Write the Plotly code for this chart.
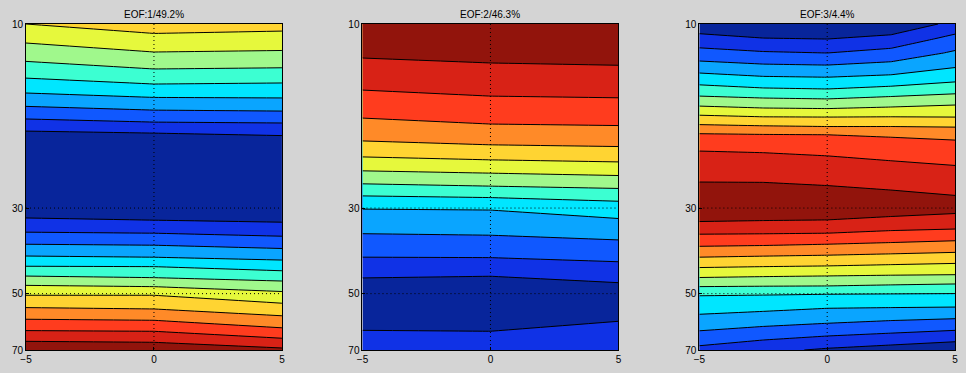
import plotly.graph_objects as go
import math

# ---------------- data ----------------
titles = ["EOF:1/49.2%", "EOF:2/46.3%", "EOF:3/4.4%"]
x_cols = [-5, 0, 5]
x_cols3 = [-5, -2.5, 0, 2.5, 5]
x_range = [-5, 5]
p_range = [10, 70]
x_ticks = [-5, 0, 5]
p_ticks = [10, 30, 50, 70]
grid_x = [0]
grid_p = [30, 50]

# contour-band index field, rows at pressure levels
p1 = [10.00, 10.58, 11.82, 13.08, 14.31, 15.50, 16.72, 17.96, 19.18, 24.90,
      32.25, 34.86, 37.45, 40.23, 42.56, 45.45, 47.96, 50.49, 54.79, 58.62,
      62.60, 66.85, 70.00]
z1 = [[7.50, 8.00, 7.86], [7.00, 7.50, 7.38], [6.03, 6.50, 6.42],
      [5.07, 5.50, 5.43], [4.13, 4.50, 4.43], [3.19, 3.50, 3.54],
      [2.21, 2.50, 2.58], [1.25, 1.50, 1.58], [0.33, 0.50, 0.59],
      [-1.0, -1.0, -1.0], [0.58, 0.50, 0.36], [1.58, 1.50, 1.26],
      [2.58, 2.50, 2.22], [3.60, 3.50, 3.24], [4.54, 4.50, 4.10],
      [5.66, 5.50, 5.17], [6.64, 6.50, 6.05], [7.50, 7.50, 6.85],
      [8.61, 8.50, 7.97], [9.59, 9.50, 8.85], [10.56, 10.50, 9.80],
      [11.59, 11.50, 10.91], [12.32, 12.20, 11.71]]

p2 = [10.00, 12.62, 15.38, 18.17, 20.57, 22.50, 24.36, 26.32, 28.18, 30.36,
      35.28, 40.33, 45.07, 53.50, 62.60, 70.00]
z2 = [[12.53, 12.70, 12.77], [11.35, 11.50, 11.57], [10.31, 10.50, 10.56],
      [9.28, 9.50, 9.57], [8.32, 8.50, 8.61], [7.30, 7.50, 7.65],
      [6.33, 6.50, 6.68], [5.32, 5.50, 5.69], [4.36, 4.50, 4.75],
      [3.43, 3.50, 3.90], [2.44, 2.50, 2.71], [1.48, 1.50, 1.71],
      [0.55, 0.50, 0.76], [-0.30, -0.30, -0.40], [0.53, 0.50, 1.05],
      [1.12, 1.07, 1.40]]

p3 = [10.00, 10.94, 11.89, 12.78, 13.74, 14.74, 15.64, 16.57, 17.43, 18.44,
      19.37, 21.97, 26.23, 29.09, 32.20, 34.86, 37.23, 39.75, 42.38, 44.99,
      47.76, 50.19, 54.57, 59.68, 64.39, 70.00]
z3 = [[-0.17, -0.50, -0.50, -0.28, 0.78],
      [0.87, 0.57, 0.50, 0.81, 1.85],
      [1.87, 1.61, 1.50, 1.85, 2.64],
      [2.82, 2.58, 2.50, 2.75, 3.34],
      [3.86, 3.57, 3.50, 3.69, 4.13],
      [4.85, 4.59, 4.50, 4.75, 5.06],
      [5.76, 5.59, 5.50, 5.74, 5.97],
      [6.76, 6.56, 6.50, 6.65, 6.81],
      [7.71, 7.53, 7.50, 7.53, 7.50],
      [8.70, 8.58, 8.50, 8.50, 8.44],
      [9.62, 9.54, 9.50, 9.39, 9.27],
      [10.76, 10.67, 10.50, 10.33, 10.18],
      [11.60, 11.60, 11.50, 11.36, 11.17],
      [12.10, 12.15, 12.20, 11.90, 11.75],
      [11.63, 11.55, 11.50, 11.40, 11.35],
      [10.58, 10.55, 10.50, 10.28, 10.11],
      [9.69, 9.62, 9.50, 9.36, 9.22],
      [8.69, 8.59, 8.50, 8.38, 8.25],
      [7.66, 7.57, 7.50, 7.38, 7.27],
      [6.67, 6.57, 6.50, 6.43, 6.39],
      [5.58, 5.53, 5.50, 5.39, 5.28],
      [4.58, 4.55, 4.50, 4.46, 4.43],
      [3.84, 3.70, 3.50, 3.45, 3.41],
      [2.99, 2.73, 2.50, 2.29, 2.10],
      [2.16, 1.80, 1.50, 1.27, 1.02],
      [1.21, 0.75, 0.36, 0.07, -0.25]]

levels = dict(start=0.5, end=11.5, size=1)
band_colors = ["#08259b", "#1032e6", "#1058ff", "#0aa5ff", "#00e6ff",
               "#3cffd2", "#a0f88c", "#e6f83c", "#ffd432", "#ff8a28",
               "#ff3c1e", "#d82216", "#92140c"]

# ---------------- figure ----------------
W, H = 966, 373
bg = "#d4d4d4"
L, R, T, B = 25.7, 11.0, 24.3, 23.0        # outer margins (px)
inner_w = W - L - R
panel_px = [(25.7, 281.7), (362.3, 618.3), (699.3, 955.0)]
x_domains = [[(a - L) / inner_w, (b - L) / inner_w] for a, b in panel_px]
y_domain = [0, 1]

nb = len(band_colors) - 1
colorscale = [[i / nb, c] for i, c in enumerate(band_colors)]

fig = go.Figure()
panels = [(x_cols, p1, z1), (x_cols, p2, z2), (x_cols3, p3, z3)]
for i, (xx, pp, zz) in enumerate(panels):
    xa = "x" if i == 0 else f"x{i+1}"
    ya = "y" if i == 0 else f"y{i+1}"
    fig.add_trace(go.Contour(
        x=xx, y=pp, z=zz, xaxis=xa, yaxis=ya,
        autocontour=False,
        contours=dict(start=levels["start"], end=levels["end"], size=levels["size"],
                      coloring="fill", showlines=True),
        line=dict(color="black", width=1, smoothing=0),
        colorscale=colorscale, showscale=False, hoverinfo="skip",
    ))
    # dotted grid lines above the field
    for gx in grid_x:
        fig.add_trace(go.Scatter(x=[gx, gx], y=p_range, mode="lines", xaxis=xa, yaxis=ya,
                                 line=dict(color="black", width=1, dash="1px,3px"),
                                 hoverinfo="skip", showlegend=False))
    for gp in grid_p:
        fig.add_trace(go.Scatter(x=x_range, y=[gp, gp], mode="lines", xaxis=xa, yaxis=ya,
                                 line=dict(color="black", width=1, dash="1px,3px"),
                                 hoverinfo="skip", showlegend=False))

    axis_common = dict(showline=True, mirror=True, linecolor="black", linewidth=1,
                       ticks="inside", ticklen=3, tickcolor="black",
                       showgrid=False, zeroline=False, automargin=False,
                       tickfont=dict(family="Liberation Sans, Arial, sans-serif",
                                     size=10, color="black"))
    xkey = "xaxis" if i == 0 else f"xaxis{i+1}"
    ykey = "yaxis" if i == 0 else f"yaxis{i+1}"
    fig.update_layout(**{
        xkey: dict(domain=x_domains[i], range=x_range, tickvals=x_ticks,
                   anchor=ya, **axis_common),
        ykey: dict(domain=y_domain, type="log",
                   range=[math.log10(p_range[1]), math.log10(p_range[0])],
                   tickvals=p_ticks, ticktext=[str(t) for t in p_ticks],
                   anchor=xa, **axis_common),
    })
    fig.add_annotation(text=titles[i], xref=f"{xa} domain", yref=f"{ya} domain",
                       x=0.5, y=1, xanchor="center", yanchor="bottom", yshift=2,
                       showarrow=False,
                       font=dict(family="Liberation Sans, Arial, sans-serif",
                                 size=10, color="black"))

fig.update_layout(width=W, height=H,
                  margin=dict(l=L, r=R, t=T, b=B, pad=0, autoexpand=False),
                  paper_bgcolor=bg, plot_bgcolor=bg, showlegend=False)

fig.write_html("out.html", config={"displayModeBar": False},
               post_script="document.body.style.margin='0px';document.body.style.background='%s';" % bg)
